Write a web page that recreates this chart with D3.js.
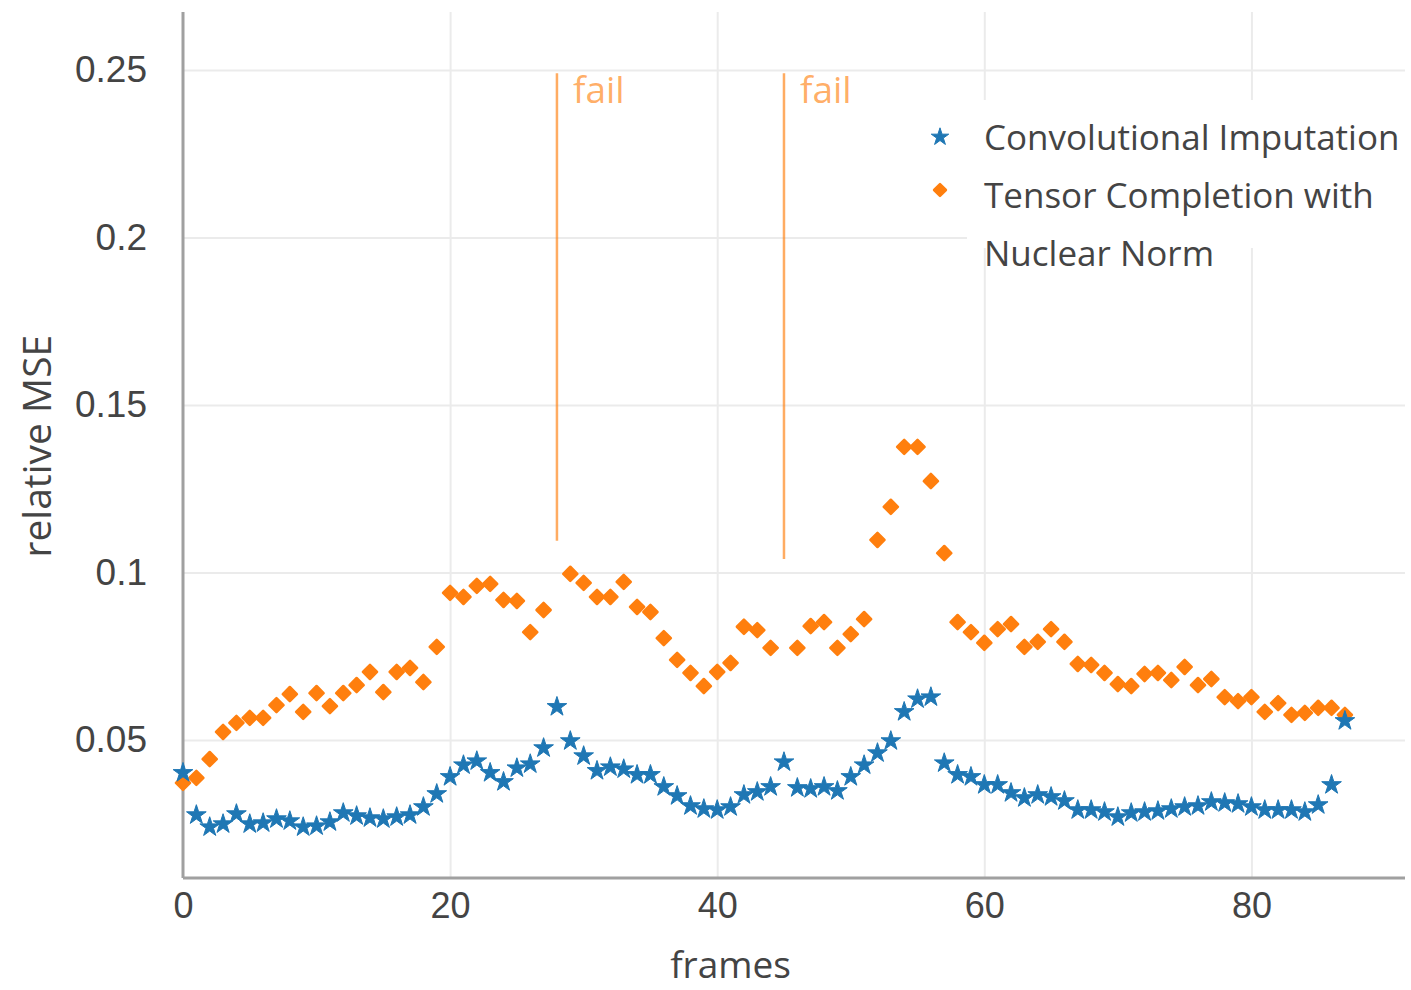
<!DOCTYPE html>
<html>
<head>
<meta charset="utf-8">
<script src="https://cdn.jsdelivr.net/npm/d3@7"></script>
<style>
  body { margin: 0; background: #fff; }
  svg { display: block; font-family: "Open Sans", "Noto Sans", sans-serif; }
</style>
</head>
<body>
<svg id="chart" width="1411" height="990"></svg>
<script>
// frame index 0..87
const frames = d3.range(0, 88)

// relative MSE, convolutional imputation
const convValues = [
  0.0402, 0.0276, 0.0240, 0.0249, 0.0279, 0.0249, 0.0252, 0.0264, 0.0258, 0.0240,
  0.0243, 0.0255, 0.0282, 0.0273, 0.0267, 0.0264, 0.0270, 0.0276, 0.0300, 0.0339,
  0.0390, 0.0425, 0.0437, 0.0402, 0.0375, 0.0416, 0.0428, 0.0476, 0.0599, 0.0497,
  0.0452, 0.0408, 0.0419, 0.0413, 0.0396, 0.0396, 0.0360, 0.0333, 0.0303, 0.0294,
  0.0291, 0.0300, 0.0336, 0.0345, 0.0360, 0.0434, 0.0357, 0.0354, 0.0360, 0.0348,
  0.0390, 0.0425, 0.0461, 0.0497, 0.0584, 0.0622, 0.0628, 0.0431, 0.0396, 0.0390,
  0.0366, 0.0366, 0.0342, 0.0327, 0.0336, 0.0330, 0.0318, 0.0291, 0.0291, 0.0285,
  0.0270, 0.0282, 0.0285, 0.0288, 0.0294, 0.0300, 0.0303, 0.0315, 0.0312, 0.0309,
  0.0300, 0.0291, 0.0291, 0.0291, 0.0285, 0.0306, 0.0366, 0.0557
]

// tensor completion with nuclear norm (null = failed frame)
const tensorValues = [
  0.0372, 0.0387, 0.0443, 0.0524, 0.0551, 0.0566, 0.0566, 0.0604, 0.0637, 0.0584,
  0.0640, 0.0601, 0.0640, 0.0664, 0.0703, 0.0643, 0.0703, 0.0715, 0.0673, 0.0778,
  0.0939, 0.0927, 0.0960, 0.0966, 0.0918, 0.0915, 0.0822, 0.0888, null,   0.0996,
  0.0969, 0.0927, 0.0927, 0.0972, 0.0897, 0.0882, 0.0804, 0.0739, 0.0700, 0.0661,
  0.0703, 0.0730, 0.0838, 0.0828, 0.0775, null,   0.0775, 0.0840, 0.0852, 0.0775,
  0.0816, 0.0861, 0.1097, 0.1196, 0.1375, 0.1375, 0.1273, 0.1058, 0.0852, 0.0822,
  0.0790, 0.0831, 0.0846, 0.0778, 0.0793, 0.0831, 0.0793, 0.0727, 0.0724, 0.0700,
  0.0667, 0.0661, 0.0697, 0.0700, 0.0679, 0.0718, 0.0664, 0.0682, 0.0628, 0.0616,
  0.0628, 0.0584, 0.0610, 0.0575, 0.0581, 0.0596, 0.0596, 0.0575
]

// failure markers: frame, line top and bottom value
const failFrames = [28, 45]
const failTop = 0.249
const failBottom = [0.1095, 0.1040]

const xTicks = [0, 20, 40, 60, 80]
const yTicks = [0.05, 0.1, 0.15, 0.2, 0.25]
const yTickLabels = ['0.05', '0.1', '0.15', '0.2', '0.25']

const legendLabels = ['Convolutional Imputation', 'Tensor Completion with', 'Nuclear Norm']

const blue = '#1f77b4'
const orange = '#ff7f0e'

const svg = d3.select('#chart')
const margin = { left: 183, right: 6, top: 12, bottom: 112 }
const width = 1411 - margin.left - margin.right
const height = 990 - margin.top - margin.bottom

const x = d3.scaleLinear().domain([0, 91.5]).range([0, width])
const y = d3.scaleLinear().domain([0.0088, 0.2673]).range([height, 0])

const g = svg.append('g').attr('transform', `translate(${margin.left},${margin.top})`)

// grid
g.append('g')
  .attr('transform', `translate(0,${height})`)
  .call(d3.axisBottom(x).tickValues(xTicks.filter(d => d > 0)).tickSize(-height).tickFormat(''))
  .call(s => s.select('.domain').remove())
  .call(s => s.selectAll('line').attr('stroke', '#ebebeb').attr('stroke-width', 2))

g.append('g')
  .call(d3.axisLeft(y).tickValues(yTicks).tickSize(-width).tickFormat(''))
  .call(s => s.select('.domain').remove())
  .call(s => s.selectAll('line').attr('stroke', '#ebebeb').attr('stroke-width', 2))

// legend background hides grid lines behind it
g.append('rect')
  .attr('x', 967 - margin.left)
  .attr('y', 100 - margin.top)
  .attr('width', 1411 - 967)
  .attr('height', 148)
  .attr('fill', '#fff')

// fail lines
failFrames.forEach((f, i) => {
  g.append('line')
    .attr('x1', x(f)).attr('x2', x(f))
    .attr('y1', y(failTop)).attr('y2', y(failBottom[i]))
    .attr('stroke', orange)
    .attr('stroke-opacity', 0.65)
    .attr('stroke-width', 2.5)
  g.append('text')
    .attr('x', x(f) + 16)
    .attr('y', y(failTop) + 30)
    .attr('fill', orange)
    .attr('fill-opacity', 0.65)
    .attr('font-size', 37)
    .text('fail')
})

// axis lines
g.append('line')
  .attr('x1', 0).attr('x2', 0).attr('y1', 0).attr('y2', height)
  .attr('stroke', '#a0a0a0').attr('stroke-width', 3)
g.append('line')
  .attr('x1', 0).attr('x2', width).attr('y1', height).attr('y2', height)
  .attr('stroke', '#a0a0a0').attr('stroke-width', 3)

// tick labels
g.append('g')
  .attr('transform', `translate(0,${height})`)
  .call(d3.axisBottom(x).tickValues(xTicks).tickSize(0).tickPadding(14))
  .call(s => s.select('.domain').remove())
  .call(s => s.selectAll('text').attr('font-size', 36).attr('fill', '#444').attr('font-family', null))

g.append('g')
  .call(d3.axisLeft(y).tickValues(yTicks).tickSize(0).tickPadding(36)
    .tickFormat((d, i) => yTickLabels[i]))
  .call(s => s.select('.domain').remove())
  .call(s => s.selectAll('text').attr('font-size', 37).attr('fill', '#444').attr('font-family', null))

// axis titles
svg.append('text')
  .attr('x', margin.left + x(41.0))
  .attr('y', 978)
  .attr('text-anchor', 'middle')
  .attr('font-size', 37)
  .attr('fill', '#444')
  .text('frames')

svg.append('text')
  .attr('transform', `translate(51,${margin.top + y(0.1377)}) rotate(-90)`)
  .attr('text-anchor', 'middle')
  .attr('font-size', 39)
  .attr('fill', '#444')
  .text('relative MSE')

// markers
const star = d3.symbol().type(d3.symbolStar).size(120)
const diamond = d3.symbol().type(d3.symbolSquare).size(100)

const tensorPts = frames.map((f, i) => ({ f, v: tensorValues[i] })).filter(d => d.v !== null)
g.append('g').selectAll('path')
  .data(tensorPts)
  .join('path')
  .attr('d', diamond)
  .attr('transform', d => `translate(${x(d.f)},${y(d.v)}) rotate(45)`)
  .attr('fill', orange)
  .attr('stroke', orange)
  .attr('stroke-width', 2.5)
  .attr('stroke-linejoin', 'round')

g.append('g').selectAll('path')
  .data(frames.map((f, i) => ({ f, v: convValues[i] })))
  .join('path')
  .attr('d', star)
  .attr('transform', d => `translate(${x(d.f)},${y(d.v)})`)
  .attr('fill', blue)
  .attr('stroke', blue)
  .attr('stroke-width', 1)
  .attr('stroke-linejoin', 'round')

// legend
const legend = svg.append('g')
legend.append('path')
  .attr('d', d3.symbol().type(d3.symbolStar).size(95))
  .attr('transform', 'translate(940,137)')
  .attr('fill', blue)
  .attr('stroke', blue)
  .attr('stroke-width', 1)
  .attr('stroke-linejoin', 'round')
legend.append('path')
  .attr('d', d3.symbol().type(d3.symbolSquare).size(70))
  .attr('transform', 'translate(940,190) rotate(45)')
  .attr('fill', orange)
  .attr('stroke', orange)
  .attr('stroke-width', 2.5)
  .attr('stroke-linejoin', 'round')

legend.selectAll('text')
  .data(legendLabels)
  .join('text')
  .attr('x', 984)
  .attr('y', (d, i) => 150 + i * 58)
  .attr('font-size', 35)
  .attr('fill', '#444')
  .text(d => d)
</script>
</body>
</html>
